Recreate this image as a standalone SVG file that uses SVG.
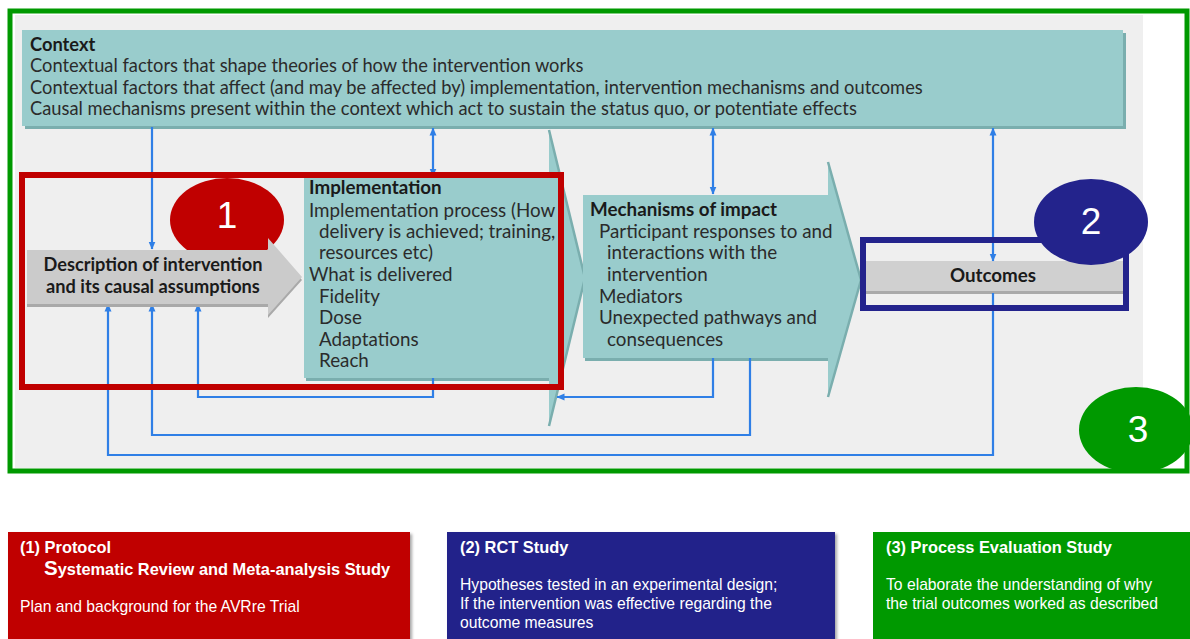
<svg xmlns="http://www.w3.org/2000/svg" width="1190" height="639" viewBox="0 0 1190 639">
<defs>
<marker id="ah" viewBox="0 0 8 8" refX="7.5" refY="4" markerWidth="8" markerHeight="8" markerUnits="userSpaceOnUse" orient="auto-start-reverse">
<path d="M0,0.5 L8,4 L0,7.5 Z" fill="#2f7fe6"/>
</marker>
<filter id="sh" x="-5%" y="-5%" width="110%" height="120%">
<feDropShadow dx="2" dy="2" stdDeviation="1.5" flood-color="#000" flood-opacity="0.35"/>
</filter>
</defs>
<style>
.teal{fill:#99cccc}
.tealsh{fill:#7aaeae}
.edge{fill:none;stroke:#7aaeae;stroke-width:2.5}
.t{font-family:Lato,"Open Sans","Noto Sans",sans-serif;fill:#2b2b2b}
.ctx{font-size:18.3px}
.bx{font-size:18.8px}
.b{font-weight:bold;fill:#1a1a1a}
.con{fill:none;stroke:#2f7fe6;stroke-width:2.2}
.num{font-family:"Liberation Sans",Arial,sans-serif;font-size:37px;fill:#fff;text-anchor:middle}
.bt{font-family:"Liberation Sans",Arial,sans-serif;fill:#fff;font-size:15.7px}
.bh{font-weight:bold;font-size:16.4px}
</style>
<rect x="0" y="0" width="1190" height="639" fill="#ffffff"/>
<rect x="15" y="15" width="1128" height="453" fill="#efefef"/>

<g id="context">
<rect x="25" y="33" width="1101" height="96" class="tealsh"/>
<rect x="22" y="30" width="1101" height="96" class="teal"/>
<text class="t ctx b" x="30" y="51">Context</text>
<text class="t ctx" x="30" y="72">Contextual factors that shape theories of how the intervention works</text>
<text class="t ctx" x="30" y="94">Contextual factors that  affect (and may be affected by) implementation, intervention mechanisms and outcomes</text>
<text class="t ctx" x="30" y="115">Causal mechanisms present within the context which act to sustain the status quo, or potentiate effects</text>
</g>

<g id="implementation">
<rect x="306" y="181" width="245" height="200" class="tealsh"/>
<path d="M304,178 H549 V130 L585,278 L549,426 V378 H304 Z" class="teal"/>
<path d="M549,130 L585,278 L549,426" class="edge"/>
<text class="t bx b" x="309" y="194">Implementation</text>
<text class="t bx" x="309" y="217">Implementation process (How</text>
<text class="t bx" x="319" y="238">delivery is achieved; training,</text>
<text class="t bx" x="319" y="259">resources etc)</text>
<text class="t bx" x="309" y="281">What is delivered</text>
<text class="t bx" x="319" y="303">Fidelity</text>
<text class="t bx" x="319" y="324">Dose</text>
<text class="t bx" x="319" y="346">Adaptations</text>
<text class="t bx" x="319" y="367">Reach</text>
</g>

<g id="mechanisms">
<rect x="585" y="198" width="245" height="163" class="tealsh"/>
<path d="M583,195 H828 V162 L861,280 L828,397 V358 H583 Z" class="teal"/>
<path d="M828,162 L861,280 L828,397" class="edge"/>
<text class="t bx b" x="590" y="216">Mechanisms of impact</text>
<text class="t bx" x="599" y="238">Participant responses to and</text>
<text class="t bx" x="607" y="259">interactions with the</text>
<text class="t bx" x="607" y="281">intervention</text>
<text class="t bx" x="599" y="303">Mediators</text>
<text class="t bx" x="599" y="324">Unexpected pathways and</text>
<text class="t bx" x="607" y="346">consequences</text>
</g>

<g id="outcomes">
<rect x="866" y="261" width="257" height="33" fill="#a9a9a9"/>
<rect x="866" y="261" width="257" height="30" fill="#d0d0d0"/>
<text class="t bx b" x="993" y="282" text-anchor="middle" font-size="17.5">Outcomes</text>
</g>

<g id="connectors">
<path class="con" d="M152,127 V249" marker-end="url(#ah)"/>
<path class="con" d="M433,128 V176" marker-start="url(#ah)" marker-end="url(#ah)"/>
<path class="con" d="M713,128 V194" marker-start="url(#ah)" marker-end="url(#ah)"/>
<path class="con" d="M993,128 V261" marker-start="url(#ah)" marker-end="url(#ah)"/>
<path class="con" d="M993,293 V455 H108 V304" marker-end="url(#ah)"/>
<path class="con" d="M750,358 V435 H152 V304" marker-end="url(#ah)"/>
<path class="con" d="M713,358 V397 H557" marker-end="url(#ah)"/>
<path class="con" d="M433,378 V397 H198 V304" marker-end="url(#ah)"/>
</g>

<g id="marker1">
<ellipse cx="227" cy="220" rx="57" ry="42" fill="#c00000"/>
<text class="num" x="227" y="228">1</text>
</g>

<g id="description">
<path d="M27,253 H268 V241 L302,280 L268,318 V307 H27 Z" fill="#a9a9a9"/>
<path d="M27,250 H268 V238 L302,277 L268,315 V304 H27 Z" fill="#cbcbcb"/>
<text class="t b" x="153" y="271" text-anchor="middle" font-size="18.2" fill="#333">Description of intervention</text>
<text class="t b" x="153" y="293" text-anchor="middle" font-size="18.2" fill="#333">and its causal assumptions</text>
</g>

<g id="frame1">
<rect x="22" y="175" width="539" height="212" fill="none" stroke="#c00000" stroke-width="6"/>
</g>

<g id="frame2">
<rect x="863" y="240" width="263" height="68" fill="none" stroke="#23238c" stroke-width="6"/>
</g>
<g id="marker2">
<ellipse cx="1091" cy="222" rx="57" ry="43" fill="#23238c"/>
<text class="num" x="1091" y="234">2</text>
</g>

<g id="frame3">
<rect x="10" y="11" width="1177" height="460" fill="none" stroke="#009900" stroke-width="5"/>
</g>
<g id="marker3">
<ellipse cx="1136" cy="430" rx="57" ry="43" fill="#009900"/>
<text class="num" x="1138" y="442">3</text>
</g>

<g id="box1">
<rect x="8" y="532" width="402" height="110" fill="#c00000" filter="url(#sh)"/>
<text class="bt bh" x="20" y="553">(1) Protocol</text>
<text class="bt bh" x="44" y="575" font-size="17.4"><tspan font-size="20.5">S</tspan>ystematic Review and Meta-analysis Study</text>
<text class="bt" x="20" y="612">Plan and background for the AVRre Trial</text>
</g>

<g id="box2">
<rect x="447" y="532" width="388" height="110" fill="#22228a" filter="url(#sh)"/>
<text class="bt bh" x="460" y="553">(2) RCT Study</text>
<text class="bt" x="460" y="590">Hypotheses tested in an experimental design;</text>
<text class="bt" x="460" y="609">If the intervention was effective regarding the</text>
<text class="bt" x="460" y="628">outcome measures</text>
</g>

<g id="box3">
<rect x="873" y="532" width="320" height="110" fill="#009900"/>
<text class="bt bh" x="886" y="553">(3) Process Evaluation Study</text>
<text class="bt" x="886" y="590">To elaborate the understanding of why</text>
<text class="bt" x="886" y="609">the trial outcomes worked as described</text>
</g>
</svg>
